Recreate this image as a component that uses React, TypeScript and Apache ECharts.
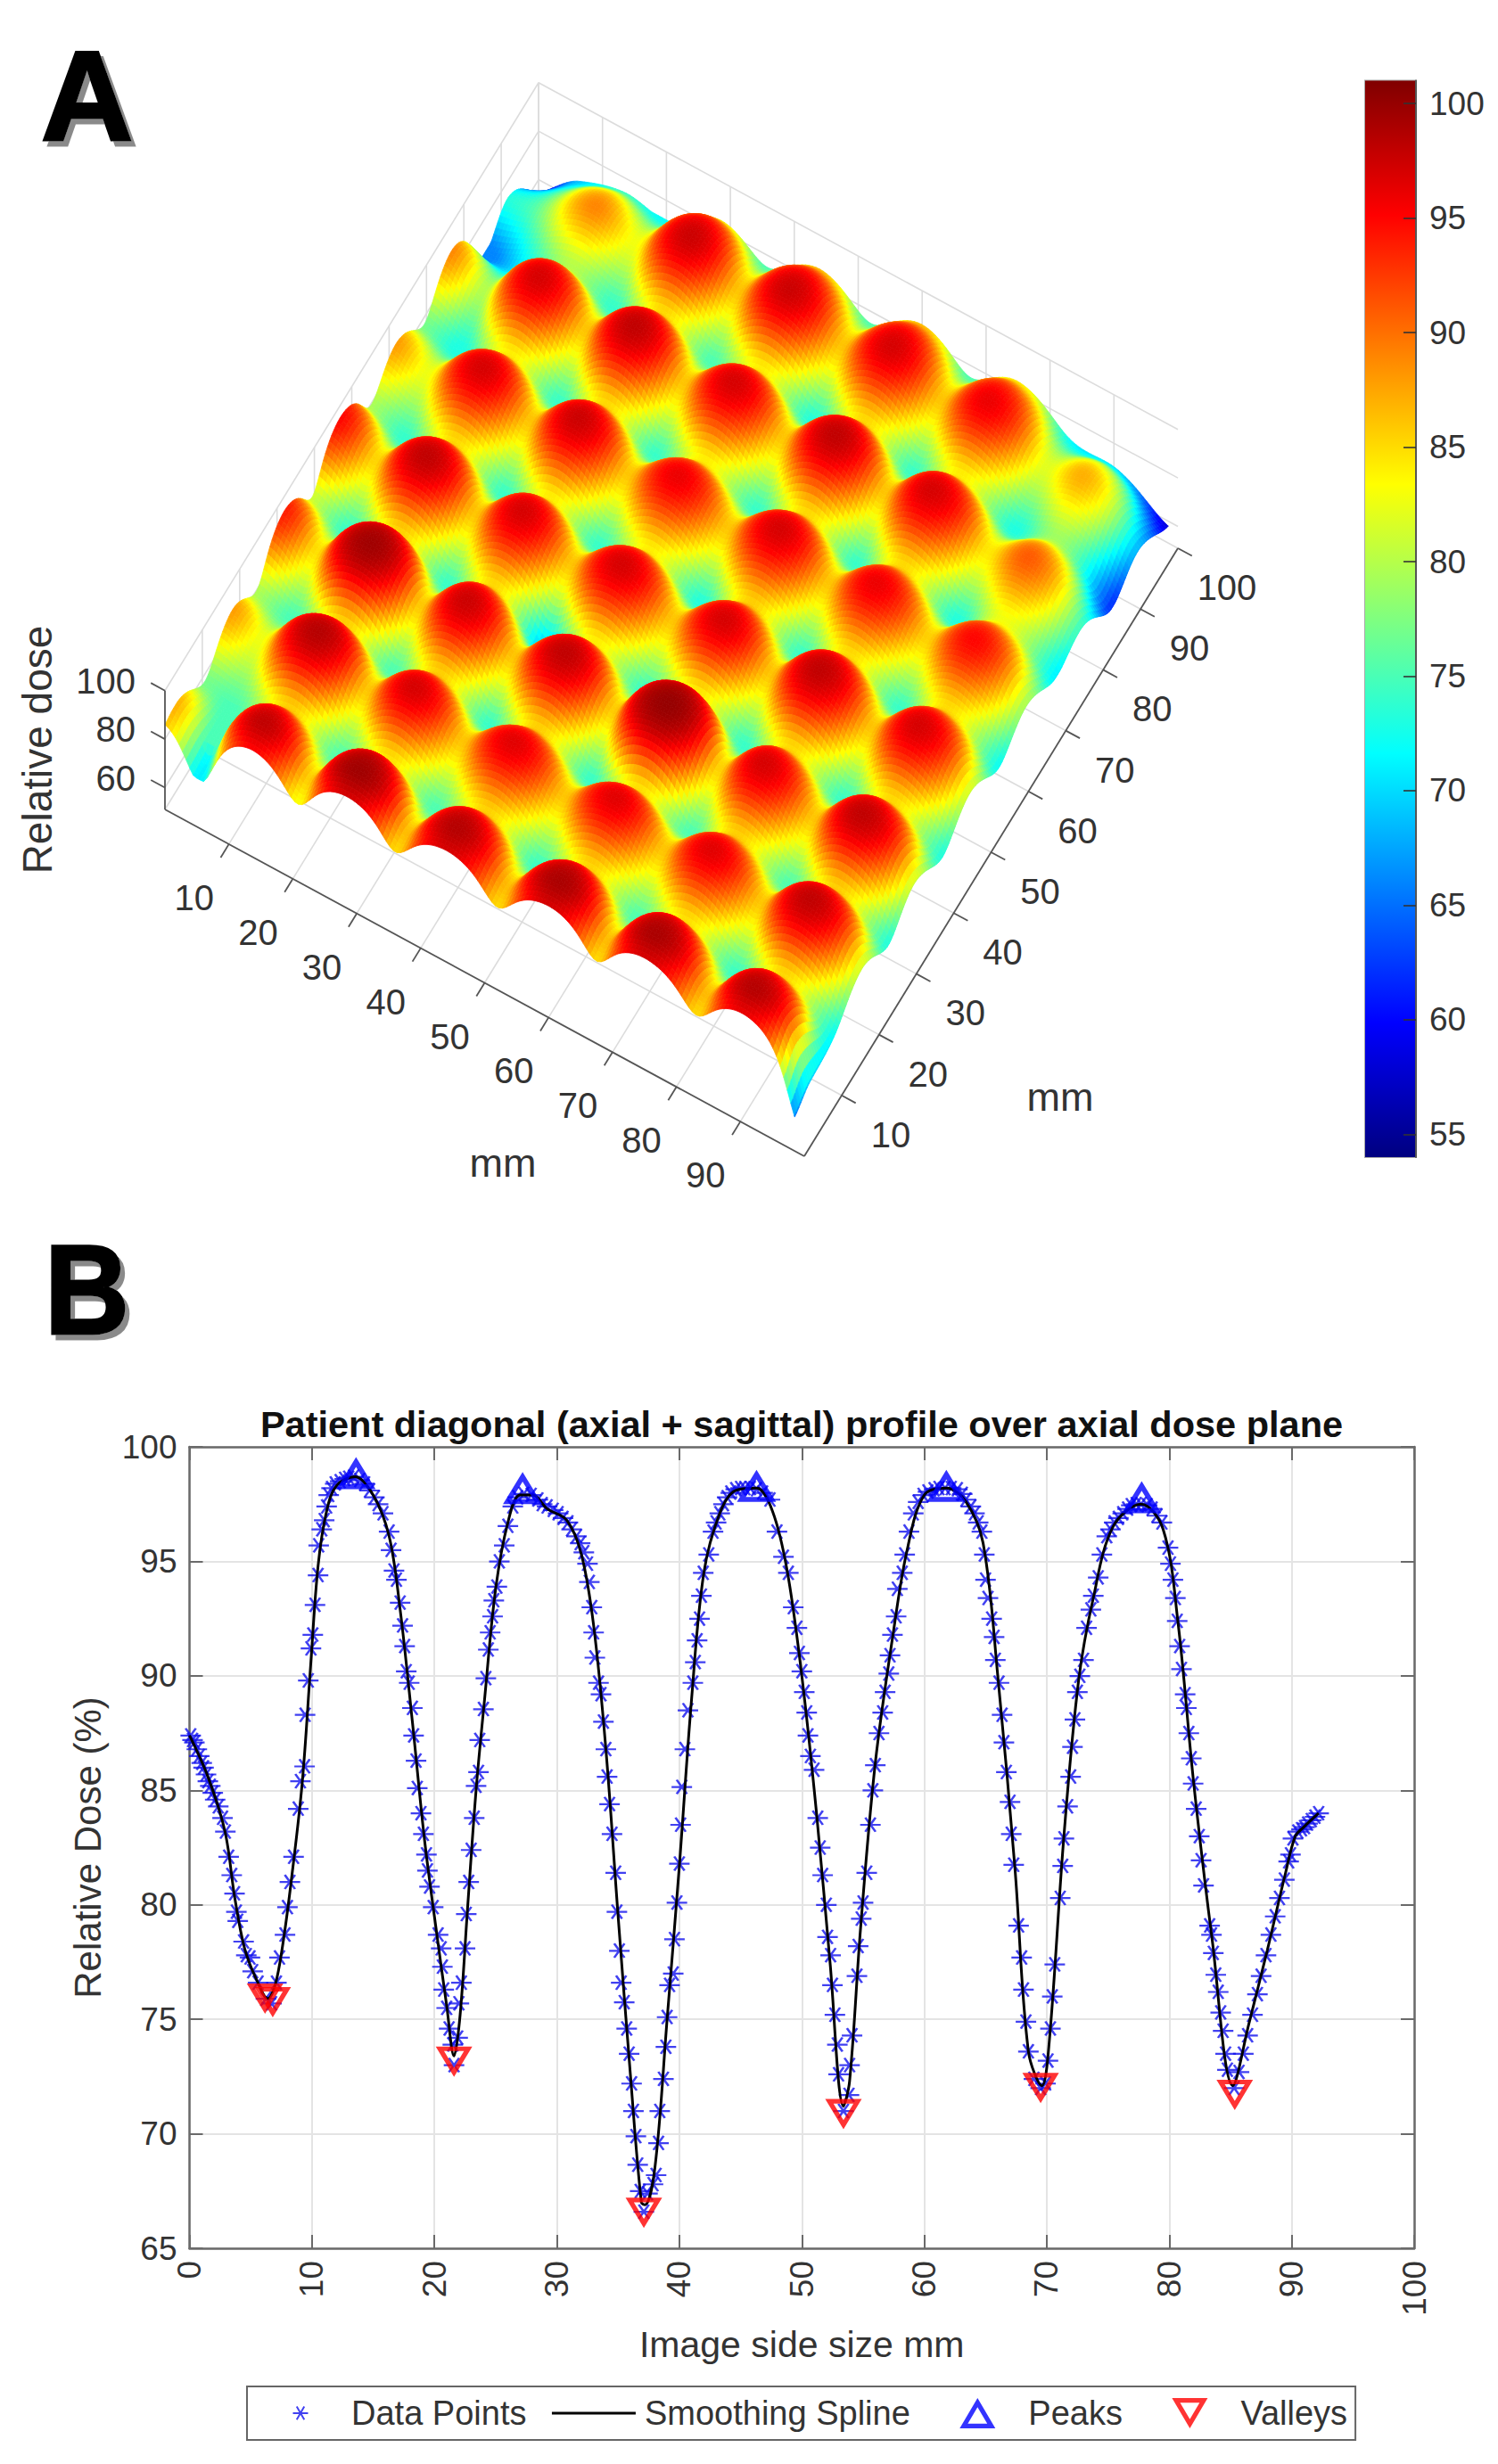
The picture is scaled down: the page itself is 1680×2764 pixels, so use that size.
import React, { useEffect, useRef } from "react";
import * as echarts from "echarts";

const FONT = "'Liberation Sans', Arial, sans-serif";
const TEXT = "#333333";

// ---------- Panel A: surface read at the peak / saddle lines (mm, mm, relative dose) ----------
const surfX = [0, 6, 13.5, 21, 28.5, 36, 44, 52, 60, 67.5, 75, 83, 90.5, 98.5];
const surfY = [0, 3.5, 10.8, 18, 25, 32, 39.5, 47, 54.5, 62, 69.5, 77, 84.5, 92, 100];
const surfZ = [
  [86, 71, 95, 83, 97, 85, 97, 85, 97, 85, 97, 85, 96, 65],
  [87, 75, 98, 85.5, 99.5, 86, 98.5, 86, 99, 86, 99, 86, 98.5, 69],
  [77, 76, 85.5, 75, 85, 75, 85.5, 74, 85.5, 75, 85, 74, 85, 72],
  [88, 85, 98.5, 86, 97, 86, 96.5, 86, 96.5, 86, 96.5, 86, 98, 81],
  [80, 75, 85.5, 75, 85.5, 74, 85.5, 74, 85.5, 75, 85.5, 75, 85.5, 73],
  [94, 86, 99.5, 86, 97.5, 86, 98, 86, 100, 86, 97, 86, 98, 81],
  [81, 74, 85.5, 74, 85, 69, 84, 74, 85, 74, 85, 74, 85, 73],
  [95, 85.5, 98, 86, 97, 86, 97, 86, 97, 86, 98, 86, 97, 81],
  [80, 74, 85, 74, 84, 74, 84, 73, 85.5, 74, 85, 74, 85, 72],
  [88, 84, 97, 86, 97.5, 86, 96, 86, 97, 86, 96, 85.5, 95, 79],
  [77, 73, 84, 74, 85, 74, 84, 74, 85, 74, 85, 73, 83, 71],
  [89, 81, 97, 86, 98, 86, 97, 86, 98, 86, 97, 85, 91, 74],
  [66, 71, 81, 74, 85, 75, 84, 73, 85, 74, 84, 73, 79, 62],
  [73, 78, 89, 84, 97.5, 86, 97.5, 86, 97, 86, 96, 83, 87, 68],
  [55, 68, 74, 72, 84, 75, 86, 75, 86, 75, 84, 72, 70, 58],
];
const surfaceXTicks = [10, 20, 30, 40, 50, 60, 70, 80, 90];
const surfaceYTicks = [10, 20, 30, 40, 50, 60, 70, 80, 90, 100];
const surfaceZTicks = [60, 80, 100];
const colorbarTicks = [55, 60, 65, 70, 75, 80, 85, 90, 95, 100];
const colorMin = 54;
const colorMax = 101;

// ---------- Panel B ----------
const profilePoints = [
  [0.1, 87.4], [0.25, 87.2], [0.4, 87.1], [0.6, 86.8], [0.8, 86.5], [1.0, 86.2], [1.15, 86], [1.35, 85.7], [1.5, 85.4], [1.7, 85.2], [1.9, 84.9], [2.1, 84.6], [2.35, 84.3], [2.7, 83.8], [2.93, 83.2], [3.2, 82.1],
  [3.45, 81.3], [3.68, 80.5], [3.83, 79.7], [3.94, 79.3], [4.42, 78.4], [4.64, 77.8], [4.94, 77.7], [5.16, 77.1], [5.6, 76.6], [6.24, 75.9], [6.7, 75.7], [7.1, 76.6], [7.35, 77.7], [7.8, 78.7], [8.0, 79.9], [8.2, 81.0], [8.5, 82.1],
  [8.88, 84.2], [9.06, 85.4], [9.4, 86.05], [9.44, 88.3], [9.7, 89.8], [9.92, 91.2], [10.07, 91.8], [10.25, 93.1], [10.5, 94.4], [10.55, 95.7], [10.8, 96.4], [11.0, 96.8], [11.2, 97.4], [11.37, 97.9], [11.6, 98.2], [11.9, 98.4], [12.3, 98.5], [12.67, 98.6], [13.0, 98.65], [13.4, 98.7], [13.9, 98.55], [14.3, 98.4], [14.7, 98.1], [15.1, 97.8], [15.4, 97.5], [15.8, 97.1], [16.3, 96.3],
  [16.46, 95.5], [16.7, 94.6], [16.9, 94.2], [17.2, 93.2], [17.4, 92.2], [17.57, 91.3], [17.7, 90.2], [17.94, 89.7], [18.2, 88.6], [18.3, 87.4], [18.5, 86.3], [18.6, 85.1], [18.9, 84.0], [19.1, 83.1], [19.35, 82.2], [19.43, 81.5], [19.6, 80.8], [19.9, 79.9], [20.3, 78.7], [20.55, 78.1], [20.65, 77.3], [20.76, 76.3], [21.0, 75.5], [21.2, 74.6], [21.5, 73.9], [21.6, 73.0],
  [21.9, 74.2], [22.0, 75.7], [22.2, 76.6], [22.5, 78.1], [22.6, 79.6], [22.8, 81.0], [23.0, 82.4], [23.25, 83.8], [23.4, 85.2], [23.6, 85.8], [23.7, 87.2], [24.0, 88.55], [24.2, 89.9], [24.4, 91.15], [24.55, 91.9], [24.75, 92.6], [24.85, 93.3], [25.1, 93.9], [25.3, 95.0], [25.7, 95.7], [26.0, 96.55], [26.4, 97.4], [26.8, 97.8], [27.3, 97.95], [27.9, 97.9], [28.45, 97.7], [28.8, 97.5], [29.2, 97.4], [29.7, 97.25], [30.1, 97.1], [30.5, 96.9], [30.9, 96.7], [31.2, 96.4], [31.6, 96.1], [31.9, 95.8], [32.2, 95.4], [32.5, 94.9],
  [32.65, 94.1], [32.85, 93.0], [33.0, 91.9], [33.1, 90.8], [33.4, 89.7], [33.6, 89.2], [33.8, 88.0], [34.0, 86.8], [34.1, 85.6], [34.3, 84.4], [34.5, 83.1], [34.8, 81.4], [34.9, 79.7], [35.1, 78.0], [35.25, 76.6], [35.5, 75.75], [35.7, 74.6], [35.9, 73.5], [36.1, 72.2], [36.25, 71.0], [36.45, 69.9], [36.6, 68.65], [36.8, 67.5], [37.1, 66.6],
  [37.4, 67.4], [37.85, 67.8], [38.1, 68.2], [38.3, 69.6], [38.4, 71.0], [38.7, 72.4], [38.9, 73.8], [39.0, 75.1], [39.2, 76.5], [39.5, 77.0], [39.6, 78.5], [39.8, 80.1], [40.0, 81.8], [40.1, 83.5], [40.2, 85.15], [40.45, 86.8], [40.7, 88.5], [41.1, 89.7], [41.3, 90.6], [41.45, 91.55], [41.65, 92.5], [41.8, 93.5], [41.95, 94.5], [42.4, 95.3], [42.75, 96.3], [43.0, 96.7], [43.3, 97.1], [43.6, 97.5], [43.9, 97.8], [44.2, 98], [44.6, 98.15], [45.0, 98.2], [45.35, 98.2], [45.8, 98.2], [46.3, 98.15], [46.8, 98], [47.4, 97.7],
  [47.97, 96.3], [48.5, 95.2], [48.9, 94.5], [49.3, 93], [49.6, 92.1], [49.8, 91], [50.0, 90.2], [50.2, 89.3], [50.4, 88.4], [50.5, 87.4], [50.7, 86.5], [51.0, 85.9], [51.3, 83.8], [51.5, 82.5], [51.7, 81.3], [52.0, 80], [52.1, 78.6], [52.35, 77.8], [52.5, 76.5], [52.7, 75.2], [52.9, 73.9], [53.0, 72.6], [53.4, 71],
  [53.85, 71.7], [53.9, 73.0], [54.1, 74.3], [54.5, 76.9], [54.6, 78.2], [54.85, 79.4], [55.0, 80.1], [55.3, 81.4], [55.6, 83.5], [55.8, 85], [56.0, 86.1], [56.3, 87.5], [56.6, 88.4], [56.8, 89.3], [57.1, 90.1], [57.2, 90.9], [57.4, 91.8], [57.7, 92.6], [57.8, 93.8], [58.2, 94.5], [58.4, 95.3], [58.75, 96.3], [59.1, 97.1], [59.5, 97.6], [59.9, 97.9], [60.3, 98.05], [60.8, 98.15], [61.2, 98.2], [61.7, 98.2], [62.2, 98.2], [62.7, 98.15], [63.1, 97.95], [63.4, 97.7], [63.8, 97.4], [64.1, 97.1], [64.4, 96.7], [64.7, 96.3],
  [64.9, 95.3], [65.0, 94.2], [65.2, 93.4], [65.5, 92.5], [65.7, 91.7], [65.8, 90.7], [66.1, 89.7], [66.35, 88.3], [66.5, 87.1], [66.7, 85.8], [67.0, 84.5], [67.1, 83.1], [67.3, 81.75], [67.7, 79.1], [67.95, 77.7], [68.1, 76.3], [68.3, 74.9], [68.5, 73.6], [68.95, 72.4], [69.5, 72],
  [69.9, 72.2], [70.1, 73.2], [70.3, 74.6], [70.45, 76], [70.65, 77.4], [71.1, 80.3], [71.3, 81.7], [71.4, 82.9], [71.7, 84.3], [71.95, 85.6], [72.1, 86.9], [72.3, 88.1], [72.5, 89.3], [72.7, 90], [73.0, 90.7], [73.25, 92.1], [73.6, 92.9], [73.8, 93.5], [74.2, 94.3], [74.5, 95.3], [74.9, 96.1], [75.2, 96.4], [75.5, 96.7], [75.85, 96.9], [76.2, 97.1], [76.6, 97.3], [76.9, 97.45], [77.3, 97.5], [77.7, 97.5], [78.2, 97.45], [78.6, 97.3], [79.0, 97.0], [79.4, 96.7],
  [79.9, 95.6], [80.1, 94.9], [80.3, 94.2], [80.5, 93.4], [80.65, 92.4], [80.85, 91.3], [81.0, 90.3], [81.3, 89.2], [81.4, 88.6], [81.6, 87.5], [81.8, 86.4], [81.95, 85.3], [82.2, 84.2], [82.45, 83], [82.6, 81.95], [82.8, 80.85], [83.3, 79.1], [83.45, 78.7], [83.6, 77.9], [83.8, 76.95], [84.0, 76.2], [84.2, 75.3], [84.4, 74.5], [84.6, 73.5], [84.75, 72.8], [85.3, 72],
  [85.7, 72.7], [86.05, 73.5], [86.4, 74.3], [86.8, 75.2], [87.2, 76.1], [87.5, 76.9], [87.9, 77.8], [88.3, 78.7], [88.65, 79.5], [89.0, 80.3], [89.4, 81.1], [89.75, 81.9], [89.9, 82.2], [90.1, 82.9], [90.5, 83.2], [90.8, 83.3], [91.05, 83.4], [91.3, 83.55], [91.6, 83.7], [91.9, 83.85], [92.2, 84.0],
];
const splinePoints = [
  [0, 87.4], [1.5, 85.6], [2.9, 83.2], [3.7, 80.3], [4.5, 78.1], [5.5, 76.7], [6.4, 75.9], [7, 76.5], [7.6, 78.2], [8.3, 81], [9.2, 85.3], [9.9, 90.5], [10.5, 94.8], [11.2, 97.2], [12, 98.3], [13.5, 98.7], [15, 97.9], [16.3, 96.1], [17.2, 92.9], [18.2, 88], [19.2, 82.8], [20.2, 78.7], [21, 75.6], [21.6, 73.4], [22.1, 75.2], [22.7, 79.8], [23.4, 85], [24.1, 89], [25, 93.8], [26, 96.7], [27, 97.9], [28, 97.9], [29.2, 97.3], [30.8, 96.8], [32, 95.3], [33, 92.2], [34, 86.8], [35, 79.5], [36, 72.6], [36.9, 67], [37.2, 66.9], [38, 68.5], [39, 75], [40, 81.7], [41, 89], [42, 94.5], [43.3, 97.1], [44.6, 98.1], [46.3, 98.2], [47.6, 97.2], [48.8, 94.6], [50, 90], [51.2, 84], [52.3, 77.5], [53.4, 71.2], [53.9, 72.3], [54.8, 79], [56, 86.2], [57.5, 92], [58.6, 95.5], [60, 97.9], [61.8, 98.2], [63.4, 97.6], [64.8, 95.8], [66, 90], [67.4, 81.6], [68.5, 73.6], [69.6, 72.1], [70.2, 74], [71.4, 83], [72.6, 89.8], [73.8, 93.4], [75.4, 96.5], [77.7, 97.5], [79.5, 96.4], [80.7, 92.4], [82, 85.3], [83.5, 78.5], [85.2, 72.1], [86.5, 74.8], [88, 78], [89.5, 81.4], [90.3, 83], [91, 83.4], [92.2, 84],
];
const peakPoints = [[13.6, 98.85], [27.2, 98.2], [46.3, 98.3], [61.8, 98.3], [77.75, 97.8]];
const valleyPoints = [[6.17, 75.9], [6.8, 75.75], [21.6, 73.15], [37.1, 66.55], [53.4, 70.86], [69.5, 72.0], [85.35, 71.7]];

// ---------- Projection of panel A (orthographic, in page pixels) ----------
const project = (x: number, y: number, z: number): [number, number] => [
  185 + 7.17 * x + 4.19 * y,
  908 + 3.89 * x - 6.82 * y - (z - 51) * 2.72,
];

const jet = (v: number) => {
  const t = (v - colorMin) / (colorMax - colorMin);
  const c = (n: number) => Math.round(255 * Math.min(1, Math.max(0, 1.5 - Math.abs(4 * t - n))));
  return `rgb(${c(3)},${c(2)},${c(1)})`;
};

const nodeIndex = (nodes: number[], v: number) => {
  let i = 0;
  while (i < nodes.length - 2 && v > nodes[i + 1]) i++;
  return i + Math.min(1, (v - nodes[i]) / (nodes[i + 1] - nodes[i]));
};
const catmull = (a: number, b: number, c: number, d: number, t: number) =>
  0.5 * (2 * b + (c - a) * t + (2 * a - 5 * b + 4 * c - d) * t * t + (3 * b - a - 3 * c + d) * t * t * t);

// The surface is drawn between the read nodes. Working on 1/sqrt(depth below a ceiling)
// keeps the wide domes and narrow V-shaped valleys of the measured profile.
const CEILING = 102;
const surfaceAt = (x: number, y: number) => {
  const fx = nodeIndex(surfX, x);
  const fy = nodeIndex(surfY, y);
  const ix = Math.min(surfX.length - 2, Math.floor(fx));
  const iy = Math.min(surfY.length - 2, Math.floor(fy));
  const raw = (r: number, c: number) =>
    surfZ[Math.max(0, Math.min(surfY.length - 1, r))][Math.max(0, Math.min(surfX.length - 1, c))];
  const w = (r: number, c: number) => 1 / Math.sqrt(CEILING - raw(r, c));
  const rowVals = [-1, 0, 1, 2].map((dr) =>
    catmull(w(iy + dr, ix - 1), w(iy + dr, ix), w(iy + dr, ix + 1), w(iy + dr, ix + 2), fx - ix),
  );
  const val = Math.max(0.05, catmull(rowVals[0], rowVals[1], rowVals[2], rowVals[3], fy - iy));
  const z = CEILING - 1 / (val * val);
  const corners = [raw(iy, ix), raw(iy, ix + 1), raw(iy + 1, ix), raw(iy + 1, ix + 1)];
  return Math.min(Math.max(...corners), Math.max(Math.min(...corners), z));
};

type Quad = { pts: [number, number][]; color: string; depth: number };
const MESH_STEP = 0.55;
const buildMesh = (): Quad[] => {
  const xs: number[] = [];
  const ys: number[] = [];
  const xEnd = surfX[surfX.length - 1];
  const yEnd = surfY[surfY.length - 1];
  for (let x = 0; x < xEnd; x += MESH_STEP) xs.push(x);
  xs.push(xEnd);
  for (let y = 0; y < yEnd; y += MESH_STEP) ys.push(y);
  ys.push(yEnd);
  const z = ys.map((y) => xs.map((x) => surfaceAt(x, y)));
  const quads: Quad[] = [];
  for (let j = 0; j < ys.length - 1; j++) {
    for (let i = 0; i < xs.length - 1; i++) {
      const zz = [z[j][i], z[j][i + 1], z[j + 1][i + 1], z[j + 1][i]];
      const mean = (zz[0] + zz[1] + zz[2] + zz[3]) / 4;
      quads.push({
        pts: [
          project(xs[i], ys[j], zz[0]),
          project(xs[i + 1], ys[j], zz[1]),
          project(xs[i + 1], ys[j + 1], zz[2]),
          project(xs[i], ys[j + 1], zz[3]),
        ],
        color: jet(mean),
        depth: 3.89 * xs[i] - 6.82 * ys[j],
      });
    }
  }
  return quads.sort((a, b) => a.depth - b.depth);
};

type Seg = { a: [number, number]; b: [number, number]; color: string; width: number };
const zFloor = 51;
const zTop = 100;
const wallSegments = (): Seg[] => {
  const segs: Seg[] = [];
  const add = (p: number[], q: number[]) =>
    segs.push({ a: project(p[0], p[1], p[2]), b: project(q[0], q[1], q[2]), color: "#dcdcdc", width: 1.6 });
  [0, ...surfaceXTicks].forEach((x) => {
    add([x, 100, zFloor], [x, 100, zTop]);
    add([x, 0, zFloor], [x, 100, zFloor]);
  });
  surfaceYTicks.forEach((y) => {
    add([0, y, zFloor], [0, y, zTop]);
    add([0, y, zFloor], [100, y, zFloor]);
  });
  surfaceZTicks.forEach((z) => {
    add([0, 0, z], [0, 100, z]);
    add([0, 100, z], [100, 100, z]);
  });
  return segs;
};
const axisSegments = (): Seg[] => {
  const segs: Seg[] = [];
  const add = (p: number[], q: number[]) =>
    segs.push({ a: project(p[0], p[1], p[2]), b: project(q[0], q[1], q[2]), color: "#555555", width: 1.8 });
  add([0, 0, zFloor], [100, 0, zFloor]);
  add([100, 0, zFloor], [100, 100, zFloor]);
  add([0, 0, zFloor], [0, 0, zTop]);
  surfaceXTicks.forEach((x) => add([x, 0, zFloor], [x, -2.2, zFloor]));
  surfaceYTicks.forEach((y) => add([100, y, zFloor], [102.2, y, zFloor]));
  surfaceZTicks.forEach((z) => add([0, 0, z], [-2.2, 0, z]));
  return segs;
};
type Lab = { text: string; p: [number, number]; align: string };
const axisLabels = (): Lab[] => [
  ...surfaceXTicks.map((x) => {
    const f = project(x, 0, zFloor);
    return { text: String(x), p: [f[0] - 39, f[1] + 60] as [number, number], align: "center" };
  }),
  ...surfaceYTicks.map((y) => {
    const f = project(100, y, zFloor);
    return { text: String(y), p: [f[0] + 55, f[1] + 44] as [number, number], align: "center" };
  }),
  ...surfaceZTicks.map((z) => {
    const f = project(0, 0, z);
    return { text: String(z), p: [152, f[1] - 11] as [number, number], align: "right" };
  }),
];

const ASTERISK = "path://M50 94H150V106H50ZM80 53L130 139L120 145L70 59ZM120 53L130 59L80 145L70 139Z";
const TRI_UP = "path://M50 0L100 85H0ZM50 25.6L22.7 72H77.3Z";
const TRI_DOWN = "path://M0 0H100L50 85ZM22.7 13L50 59.4L77.3 13Z";
// Legend icons: same shapes inside a wide invisible extent, so every legend key has the same width
const LEG_ASTERISK =
  "path://M0 0h.2v.2h-.2zM611.8 199.8h.2v.2h-.2zM256 94H356V106H256ZM286 53L336 139L326 145L276 59ZM326 53L336 59L286 145L276 139Z";
const LEG_LINE = "path://M5 0H99V3H5ZM0 1.4h.01v.01h-.01zM104 1.4h.01v.01h-.01z";
const LEG_UP = "path://M0 84.9h.1v.1h-.1zM259.9 84.9h.1v.1h-.1zM130 0L180 85H80ZM130 25.6L102.7 72H157.3Z";
const LEG_DOWN = "path://M0 0h.1v.1h-.1zM259.9 0h.1v.1h-.1zM80 0H180L130 85ZM102.7 13L130 59.4L157.3 13Z";

const headLetter = (text: string, x: number, y: number, scaleX = 1) => ({
  type: "text",
  x,
  y,
  scaleX,
  z: 50,
  style: {
    text,
    fill: "#000",
    stroke: "#000",
    lineWidth: 3,
    font: `bold 143px ${FONT}`,
    textShadowColor: "#8a8a8a",
    textShadowOffsetX: 5,
    textShadowOffsetY: 6,
    textShadowBlur: 1.5,
    align: "left",
    verticalAlign: "top",
  },
});
const plainText = (text: string, x: number, y: number, size: number, rotation = 0) => ({
  type: "text",
  x,
  y,
  rotation,
  z: 50,
  style: { text, fill: TEXT, font: `${size}px ${FONT}`, align: "center", verticalAlign: "middle" },
});

export default function App() {
  const ref = useRef<HTMLDivElement>(null);
  useEffect(() => {
    document.body.style.margin = "0";
    const chart = echarts.init(ref.current!, undefined, { renderer: "svg" });
    const mesh = buildMesh();
    const walls = wallSegments();
    const axes = axisSegments();
    const labels = axisLabels();
    const lineItem = (api: any, s: Seg) => {
      const a = api.coord(s.a);
      const b = api.coord(s.b);
      return {
        type: "line",
        shape: { x1: a[0], y1: a[1], x2: b[0], y2: b[1] },
        style: { stroke: s.color, lineWidth: s.width },
      };
    };
    const screenAxes = { xAxisIndex: 2, yAxisIndex: 2 };
    const grey = "#6a6a6a";
    const gridLine = { show: true, lineStyle: { color: "#e4e4e4", width: 2 } };
    const profileLabel = { color: TEXT, fontSize: 37, fontFamily: FONT };
    const stops = [0, 0.125, 0.375, 0.625, 0.875, 1].map((offset) => ({
      offset,
      color: jet(colorMin + offset * (colorMax - colorMin)),
    }));

    chart.setOption({
      animation: false,
      backgroundColor: "#fff",
      textStyle: { fontFamily: FONT },
      title: {
        text: "Patient diagonal (axial + sagittal) profile over axial dose plane",
        left: 894,
        top: 1571,
        textAlign: "center",
        textStyle: { fontFamily: FONT, fontSize: 41.5, fontWeight: "bold", color: "#111" },
      },
      legend: {
        left: 277,
        top: 2677,
        orient: "horizontal",
        padding: [11, 9, 11, 8],
        itemWidth: 104,
        itemHeight: 34,
        itemGap: 23.5,
        borderColor: "#666",
        borderWidth: 2,
        backgroundColor: "#fff",
        selectedMode: false,
        textStyle: { fontSize: 38, color: TEXT, fontFamily: FONT },
        data: [
          { name: "Data Points", icon: LEG_ASTERISK },
          { name: "Smoothing Spline", icon: LEG_LINE },
          { name: "Peaks", icon: LEG_UP },
          { name: "Valleys", icon: LEG_DOWN },
        ],
      },
      grid: [
        { left: 212.5, top: 1623, width: 1373.5, height: 899, containLabel: false },
        { left: 1531, top: 90.5, width: 57, height: 1207.5, show: true, borderColor: "#a8a8a8", borderWidth: 2 },
        { left: 0, top: 0, width: 1680, height: 2764 },
      ],
      xAxis: [
        {
          gridIndex: 0,
          type: "value",
          min: 0,
          max: 100,
          interval: 10,
          position: "bottom",
          name: "Image side size mm",
          nameLocation: "middle",
          nameGap: 87,
          nameTextStyle: { fontSize: 41, color: TEXT, fontFamily: FONT },
          axisLine: { onZero: false, lineStyle: { color: grey, width: 2.5 } },
          axisTick: { inside: true, length: 15, lineStyle: { color: grey, width: 2 } },
          axisLabel: { ...profileLabel, rotate: 90, margin: 14 },
          splitLine: gridLine,
        },
        {
          gridIndex: 0,
          type: "value",
          min: 0,
          max: 100,
          interval: 10,
          position: "top",
          axisLine: { onZero: false, lineStyle: { color: grey, width: 2.5 } },
          axisTick: { inside: true, length: 15, lineStyle: { color: grey, width: 2 } },
          axisLabel: { show: false },
          splitLine: { show: false },
        },
        { gridIndex: 2, type: "value", min: 0, max: 1680, show: false },
        { gridIndex: 1, type: "category", data: ["colorbar"], show: false },
      ],
      yAxis: [
        {
          gridIndex: 0,
          type: "value",
          min: 65,
          max: 100,
          interval: 5,
          position: "left",
          name: "Relative Dose (%)",
          nameLocation: "middle",
          nameGap: 93,
          nameTextStyle: { fontSize: 42, color: TEXT, fontFamily: FONT },
          axisLine: { onZero: false, lineStyle: { color: grey, width: 2.5 } },
          axisTick: { inside: true, length: 15, lineStyle: { color: grey, width: 2 } },
          axisLabel: { ...profileLabel, margin: 14 },
          splitLine: gridLine,
        },
        {
          gridIndex: 0,
          type: "value",
          min: 65,
          max: 100,
          interval: 5,
          position: "right",
          axisLine: { onZero: false, lineStyle: { color: grey, width: 2.5 } },
          axisTick: { inside: true, length: 15, lineStyle: { color: grey, width: 2 } },
          axisLabel: { show: false },
          splitLine: { show: false },
        },
        { gridIndex: 2, type: "value", min: 0, max: 2764, inverse: true, show: false },
        {
          gridIndex: 1,
          type: "value",
          min: colorMin,
          max: colorMax,
          position: "right",
          z: 5,
          axisLine: { show: true, onZero: false, lineStyle: { color: "#555", width: 2 } },
          axisTick: { show: true, inside: true, length: 14, customValues: colorbarTicks, lineStyle: { color: "#333", width: 1.6 } },
          axisLabel: { color: TEXT, fontSize: 37, fontFamily: FONT, margin: 15, customValues: colorbarTicks },
          splitLine: { show: false },
        },
      ],
      series: [
        {
          type: "custom",
          ...screenAxes,
          silent: true,
          clip: false,
          z: 1,
          progressive: 0,
          data: walls.map((_, i) => [i]),
          renderItem: (p: any, api: any) => lineItem(api, walls[p.dataIndex]),
        },
        {
          type: "custom",
          ...screenAxes,
          silent: true,
          clip: false,
          z: 2,
          progressive: 0,
          data: mesh.map((_, i) => [i]),
          renderItem: (p: any, api: any) => {
            const q = mesh[p.dataIndex];
            return {
              type: "polygon",
              shape: { points: q.pts.map((c) => api.coord(c)) },
              style: { fill: q.color, stroke: q.color, lineWidth: 0.8 },
            };
          },
        },
        {
          type: "custom",
          ...screenAxes,
          silent: true,
          clip: false,
          z: 3,
          progressive: 0,
          data: axes.map((_, i) => [i]),
          renderItem: (p: any, api: any) => lineItem(api, axes[p.dataIndex]),
        },
        {
          type: "custom",
          ...screenAxes,
          silent: true,
          clip: false,
          z: 3,
          progressive: 0,
          data: labels.map((_, i) => [i]),
          renderItem: (p: any, api: any) => {
            const l = labels[p.dataIndex];
            const c = api.coord(l.p);
            return {
              type: "text",
              x: c[0],
              y: c[1],
              style: { text: l.text, fill: TEXT, font: `40px ${FONT}`, align: l.align, verticalAlign: "middle" },
            };
          },
        },
        {
          type: "bar",
          xAxisIndex: 3,
          yAxisIndex: 3,
          barWidth: "100%",
          silent: true,
          data: [colorMax],
          itemStyle: { color: new echarts.graphic.LinearGradient(0, 1, 0, 0, stops) },
        },
        {
          name: "Data Points",
          type: "scatter",
          xAxisIndex: 0,
          yAxisIndex: 0,
          data: profilePoints,
          symbol: ASTERISK,
          symbolSize: [23, 17],
          itemStyle: { color: "#1010ee", opacity: 0.8 },
          z: 4,
        },
        {
          name: "Smoothing Spline",
          type: "line",
          xAxisIndex: 0,
          yAxisIndex: 0,
          data: splinePoints,
          smooth: 0.35,
          symbol: "none",
          lineStyle: { color: "#000", width: 3 },
          itemStyle: { color: "#000" },
          z: 5,
        },
        {
          name: "Peaks",
          type: "scatter",
          xAxisIndex: 0,
          yAxisIndex: 0,
          data: peakPoints,
          symbol: TRI_UP,
          symbolSize: [44, 36],
          itemStyle: { color: "#0000ff" },
          z: 6,
        },
        {
          name: "Valleys",
          type: "scatter",
          xAxisIndex: 0,
          yAxisIndex: 0,
          data: valleyPoints,
          symbol: TRI_DOWN,
          symbolSize: [41, 34],
          itemStyle: { color: "#ff0000" },
          z: 6,
        },
      ],
      graphic: [
        headLetter("A", 46, 36),
        headLetter("B", 50, 1375, 0.92),
        plainText("Relative dose", 42, 841, 46, Math.PI / 2),
        plainText("mm", 564, 1304, 45),
        plainText("mm", 1189, 1230, 45),
      ],
    });
    return () => chart.dispose();
  }, []);
  return (
    <div
      ref={ref}
      style={{ position: "absolute", left: 0, top: 0, width: 1680, height: 2764, background: "#fff" }}
    />
  );
}
